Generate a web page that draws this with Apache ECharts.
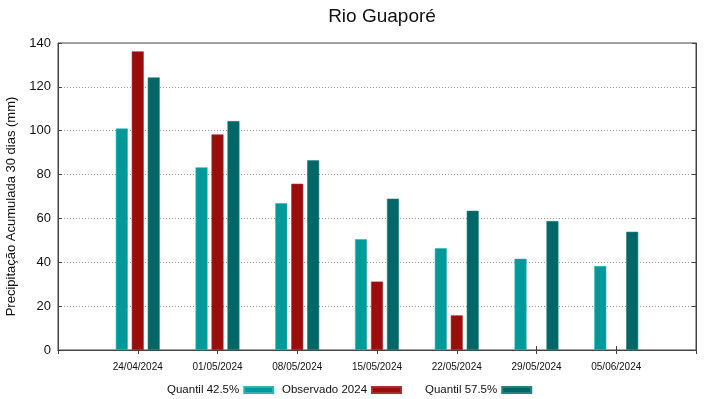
<!DOCTYPE html>
<html>
<head>
<meta charset="utf-8">
<script src="https://cdn.jsdelivr.net/npm/echarts@6/dist/echarts.min.js"></script>
<style>
  html, body { margin: 0; padding: 0; background: #fff; }
  #chart { width: 719px; height: 399px; }
</style>
</head>
<body>
<div id="chart"></div>
<script>
// datas (blank slots at both ends keep the gnuplot-like margins)
var datas = ['', '24/04/2024', '01/05/2024', '08/05/2024', '15/05/2024', '22/05/2024', '29/05/2024', '05/06/2024', ''];
var quantil425 = [null, 101, 83.3, 66.9, 50.5, 46.4, 41.6, 38.3, null];
var observado = [null, 136.2, 98.3, 75.8, 31.2, 15.8, null, null, null];
var quantil575 = [null, 124.3, 104.4, 86.5, 69.0, 63.5, 58.8, 53.9, null];
var yTicks = [0, 20, 40, 60, 80, 100, 120, 140];

var font = 'Liberation Sans';
var cores = ['#009999', '#990d0d', '#006666'];
var bordas = ['#33b3b3', '#a83030', '#2a8080'];

var ec = echarts.init(document.getElementById('chart'));

function legenda(nome, left) {
  return {
    data: [nome],
    left: left,
    top: 379,
    align: 'right',
    icon: 'rect',
    itemWidth: 29,
    itemHeight: 6,
    selectedMode: false,
    textStyle: { fontFamily: font, fontSize: 11.5, color: '#111' }
  };
}

var option = {
  animation: false,
  textStyle: { fontFamily: font },
  title: {
    text: 'Rio Guaporé',
    left: 377,
    textAlign: 'center',
    top: 2,
    textStyle: { fontFamily: font, fontSize: 19, fontWeight: 'normal', color: '#111' }
  },
  legend: [
    legenda('Quantil 42.5%', 162),
    legenda('Observado 2024', 277),
    legenda('Quantil 57.5%', 420)
  ],
  grid: {
    left: 58, right: 23, top: 43, bottom: 49,
    outerBoundsMode: 'none',
    containLabel: false,
    show: true, borderColor: '#444', borderWidth: 1, backgroundColor: 'transparent'
  },
  xAxis: [{
    type: 'category',
    data: datas,
    boundaryGap: false,
    axisLine: { lineStyle: { color: '#444' } },
    axisTick: { inside: true, length: 4, interval: 0, lineStyle: { color: '#444' } },
    axisLabel: { interval: 0, fontFamily: font, fontSize: 10, color: '#111', margin: 12 },
    splitLine: { show: false }
  }, {
    type: 'category',
    data: datas,
    position: 'top',
    boundaryGap: false,
    axisLine: { lineStyle: { color: '#444' } },
    axisTick: { inside: true, length: 4, interval: 0, lineStyle: { color: '#444' } },
    axisLabel: { show: false },
    splitLine: { show: false }
  }],
  yAxis: [{
    type: 'value',
    min: yTicks[0],
    max: yTicks[yTicks.length - 1],
    interval: 20,
    name: 'Precipitação Acumulada 30 dias (mm)',
    nameLocation: 'middle',
    nameGap: 34,
    nameTextStyle: { fontFamily: font, fontSize: 13, color: '#111', padding: [0, 20, 0, 0] },
    axisLine: { show: true, lineStyle: { color: '#444' } },
    axisTick: { show: true, inside: true, length: 4, lineStyle: { color: '#444' } },
    axisLabel: { fontFamily: font, fontSize: 13, color: '#111', margin: 7 },
    splitLine: { show: true, lineStyle: { type: [1, 2], color: '#999', width: 1 } }
  }, {
    type: 'value',
    min: yTicks[0],
    max: yTicks[yTicks.length - 1],
    interval: 20,
    position: 'right',
    axisLine: { show: true, lineStyle: { color: '#444' } },
    axisTick: { show: true, inside: true, length: 4, lineStyle: { color: '#444' } },
    axisLabel: { show: false },
    splitLine: { show: false }
  }],
  series: [{
    name: 'Quantil 42.5%',
    type: 'bar',
    data: quantil425,
    barWidth: 12,
    barGap: '33%',
    itemStyle: { color: cores[0], borderColor: bordas[0], borderWidth: 0.6 }
  }, {
    name: 'Observado 2024',
    type: 'bar',
    data: observado,
    barWidth: 12,
    barGap: '33%',
    itemStyle: { color: cores[1], borderColor: bordas[1], borderWidth: 0.6 }
  }, {
    name: 'Quantil 57.5%',
    type: 'bar',
    data: quantil575,
    barWidth: 12,
    barGap: '33%',
    itemStyle: { color: cores[2], borderColor: bordas[2], borderWidth: 0.6 }
  }]
};
ec.setOption(option);
</script>
</body>
</html>
